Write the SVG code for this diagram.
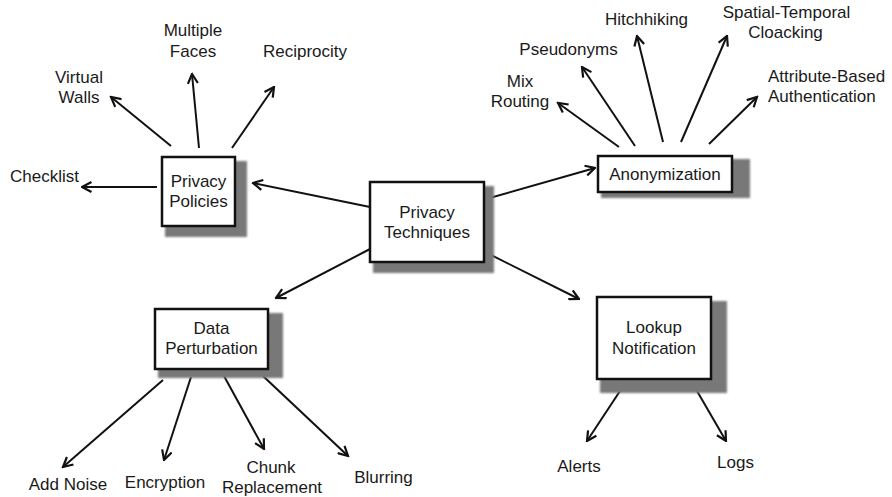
<svg xmlns="http://www.w3.org/2000/svg" width="892" height="497" viewBox="0 0 892 497">
<style>
text{font-family:"Liberation Sans",Arial,sans-serif;font-size:17px;fill:#1a1a1a;text-anchor:middle}
.box{fill:#fff;stroke:#111;stroke-width:2.5}
.sh{fill:#787878;filter:url(#blur)}
.c line{stroke:#111;stroke-width:2;marker-end:url(#ah)}
</style>
<defs>
<filter id="blur" x="-20%" y="-20%" width="140%" height="140%"><feGaussianBlur stdDeviation="1.2"/></filter>
<marker id="ah" viewBox="0 0 12 12" markerWidth="12" markerHeight="12" refX="10.5" refY="6" orient="auto" markerUnits="userSpaceOnUse">
<path d="M1,1 L10.5,6 L1,11" fill="none" stroke="#111" stroke-width="2.2"/>
</marker>
</defs>
<g class="c" id="connectors">
<line x1="370" y1="207" x2="253" y2="183"/>
<line x1="486" y1="199" x2="595" y2="168"/>
<line x1="370" y1="249" x2="276" y2="298"/>
<line x1="485" y1="252" x2="579" y2="299"/>
<line x1="157" y1="187" x2="82" y2="187"/>
<line x1="171" y1="146" x2="111" y2="97"/>
<line x1="199" y1="148" x2="192" y2="74"/>
<line x1="232" y1="148" x2="274" y2="87"/>
<line x1="619" y1="147" x2="558" y2="103"/>
<line x1="635" y1="146" x2="582" y2="67"/>
<line x1="663" y1="142" x2="637" y2="36"/>
<line x1="681" y1="142" x2="727" y2="36"/>
<line x1="709" y1="144" x2="757" y2="97"/>
<line x1="163" y1="380" x2="63" y2="467"/>
<line x1="191" y1="377" x2="164" y2="460"/>
<line x1="224" y1="376" x2="264" y2="449"/>
<line x1="263" y1="376" x2="348" y2="456"/>
<line x1="620" y1="391" x2="587" y2="441"/>
<line x1="697" y1="391" x2="726" y2="441"/>
</g>
<g id="privacy-techniques">
<rect class="sh" x="373" y="186" width="121" height="87"/>
<rect class="box" x="370" y="182" width="114" height="80"/>
<text x="427" y="218">Privacy</text><text x="427" y="238">Techniques</text>
</g>
<g id="privacy-policies">
<rect class="sh" x="165" y="161" width="82" height="76"/>
<rect class="box" x="162" y="157" width="73" height="69"/>
<text x="198.5" y="187">Privacy</text><text x="198.5" y="207">Policies</text>
</g>
<g id="anonymization">
<rect class="sh" x="601" y="159" width="149" height="39"/>
<rect class="box" x="598" y="156" width="134" height="36"/>
<text x="665" y="180">Anonymization</text>
</g>
<g id="data-perturbation">
<rect class="sh" x="158" y="313" width="125" height="65"/>
<rect class="box" x="155" y="309" width="113" height="60"/>
<text x="211.5" y="334">Data</text><text x="211.5" y="354">Perturbation</text>
</g>
<g id="lookup-notification">
<rect class="sh" x="600" y="301" width="127" height="92"/>
<rect class="box" x="597" y="297" width="114" height="82"/>
<text x="654" y="333">Lookup</text><text x="654" y="354">Notification</text>
</g>
<g id="checklist"><text x="44.5" y="182">Checklist</text></g>
<g id="virtual-walls"><text x="79" y="83">Virtual</text><text x="79" y="103">Walls</text></g>
<g id="multiple-faces"><text x="193" y="36">Multiple</text><text x="193" y="57">Faces</text></g>
<g id="reciprocity"><text x="305" y="57">Reciprocity</text></g>
<g id="mix-routing"><text x="520" y="87">Mix</text><text x="520" y="107">Routing</text></g>
<g id="pseudonyms"><text x="568.5" y="55">Pseudonyms</text></g>
<g id="hitchhiking"><text x="646.5" y="25">Hitchhiking</text></g>
<g id="spatial-temporal"><text x="786.5" y="18">Spatial-Temporal</text><text x="785.5" y="38">Cloacking</text></g>
<g id="attribute-based"><text x="768" y="82" style="text-anchor:start">Attribute-Based</text><text x="768" y="102" style="text-anchor:start">Authentication</text></g>
<g id="add-noise"><text x="68" y="490">Add Noise</text></g>
<g id="encryption"><text x="165" y="488">Encryption</text></g>
<g id="chunk-replacement"><text x="271" y="473">Chunk</text><text x="272" y="493">Replacement</text></g>
<g id="blurring"><text x="383.5" y="483">Blurring</text></g>
<g id="alerts"><text x="579" y="472">Alerts</text></g>
<g id="logs"><text x="735.5" y="468">Logs</text></g>
</svg>
